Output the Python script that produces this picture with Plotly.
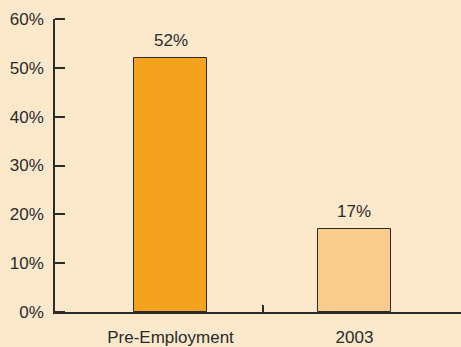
import plotly.graph_objects as go

categories = ["Pre-Employment", "2003"]
values = [52, 17]
bar_colors = ["#F5A21F", "#F9CC8D"]
y_ticks = [0, 10, 20, 30, 40, 50, 60]
y_tick_labels = ["0%", "10%", "20%", "30%", "40%", "50%", "60%"]

xpos = list(range(len(categories)))
FONT = "Liberation Sans, Arial, sans-serif"
DARK = "#2b2b2b"

fig = go.Figure()
fig.add_trace(go.Bar(
    x=xpos, y=values, width=0.4,
    marker=dict(color=bar_colors, line=dict(color=DARK, width=1)),
    showlegend=False, hoverinfo="skip",
))
for xi, v in zip(xpos, values):
    fig.add_annotation(x=xi, y=v, text=f"{v}%", showarrow=False,
                       yanchor="bottom", yshift=6,
                       font=dict(family=FONT, size=17, color=DARK))

fig.update_layout(
    width=461, height=347,
    margin=dict(l=55, r=0, t=19, b=35),
    paper_bgcolor="#FCE8CB", plot_bgcolor="#FCE8CB",
    font=dict(family=FONT, size=17, color=DARK),
    bargap=0,
)
fig.update_xaxes(
    range=[-0.628, 1.579], tickvals=xpos, ticktext=categories,
    ticks="", showline=True, linecolor=DARK, linewidth=1.5,
    showgrid=False, zeroline=False, ticklabelstandoff=9, automargin=False,
    minor=dict(tickvals=[0.5], ticks="inside", ticklen=7, tickcolor=DARK, tickwidth=1.5, showgrid=False),
)
fig.update_yaxes(
    range=[0, 60], tickvals=y_ticks, ticktext=y_tick_labels,
    ticks="", showline=True, linecolor=DARK, linewidth=1.5,
    showgrid=False, zeroline=False, ticklabelstandoff=6, automargin=False,
    minor=dict(tickvals=y_ticks, ticks="inside", ticklen=10, tickcolor=DARK, tickwidth=1.5, showgrid=False),
)
fig.write_html("out.html")
